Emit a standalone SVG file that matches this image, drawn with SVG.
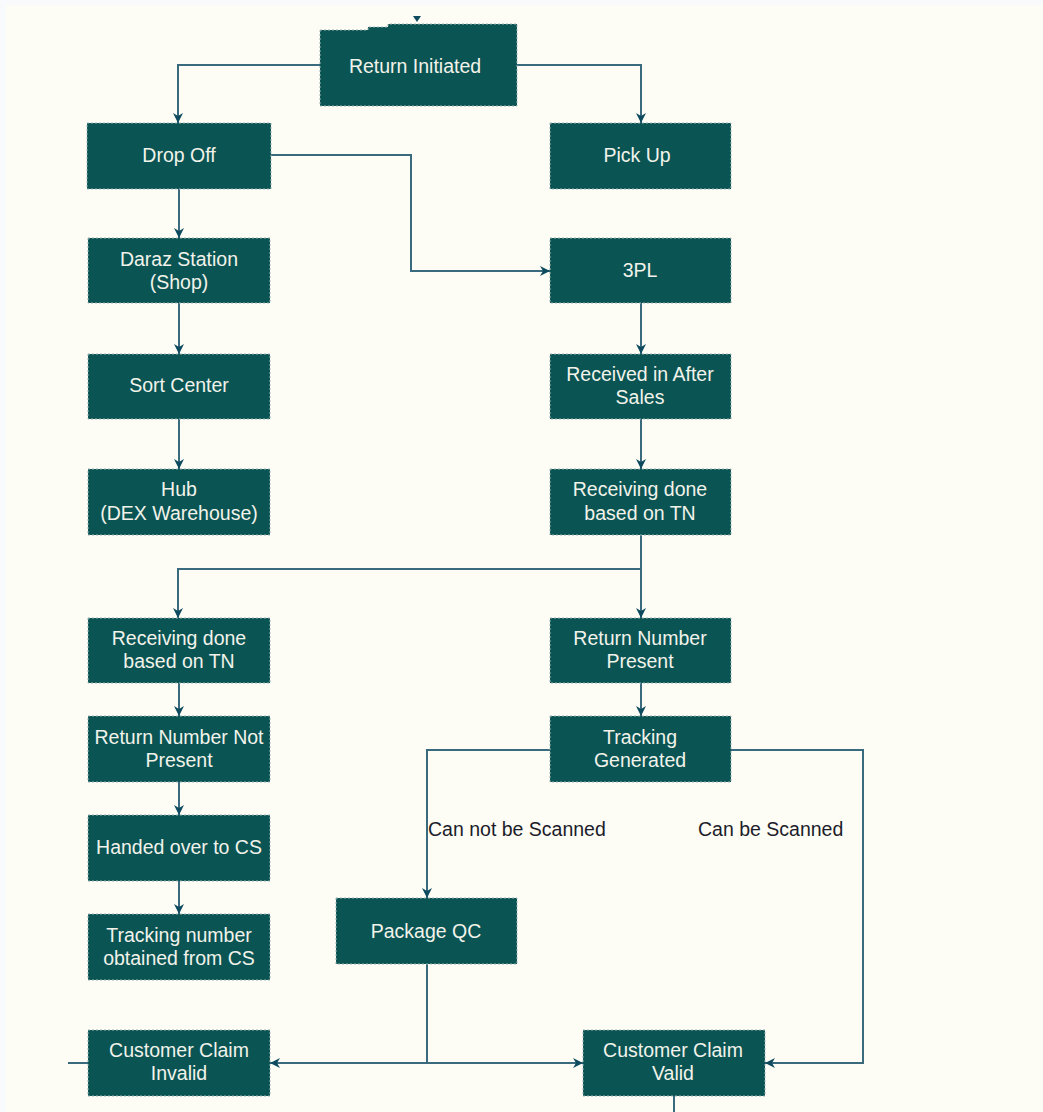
<svg xmlns="http://www.w3.org/2000/svg" width="1043" height="1112" viewBox="0 0 1043 1112">
  <defs>
    <style>
      .node { fill: #0b5454; stroke: #9fb3b3; stroke-width: 1; stroke-dasharray: 2 2; }
      .label { fill: #f1f3ea; font-family: "Liberation Sans", Arial, sans-serif; font-size: 19.5px; text-anchor: middle; dominant-baseline: central; }
      .edge { fill: none; stroke: #3a6a7e; stroke-width: 2; }
      .edge-label { fill: #1c1c2a; font-family: "Liberation Sans", Arial, sans-serif; font-size: 19.5px; dominant-baseline: central; }
    </style>
    <marker id="arrow" viewBox="0 0 10 10" refX="10" refY="5" markerWidth="10" markerHeight="10" markerUnits="userSpaceOnUse" orient="auto">
      <path d="M0,0 L10,5 L0,10 L3,5 Z" fill="#0e4b5e"/>
    </marker>
  </defs>

  <!-- canvas -->
  <rect x="0" y="0" width="1043" height="1112" fill="#f9fafb"/>
  <rect x="6" y="5" width="1037" height="1107" fill="#fdfdf5"/>

  <!-- connectors -->
  <g id="connectors">
    <path class="edge" d="M320,65 H178 V123" marker-end="url(#arrow)"/>
    <path class="edge" d="M517,65 H641 V123" marker-end="url(#arrow)"/>
    <path class="edge" d="M179,189 V238" marker-end="url(#arrow)"/>
    <path class="edge" d="M271,155 H411 V271 H550" marker-end="url(#arrow)"/>
    <path class="edge" d="M179,303 V354" marker-end="url(#arrow)"/>
    <path class="edge" d="M179,419 V469" marker-end="url(#arrow)"/>
    <path class="edge" d="M641,303 V354" marker-end="url(#arrow)"/>
    <path class="edge" d="M641,419 V469" marker-end="url(#arrow)"/>
    <path class="edge" d="M641,535 V618" marker-end="url(#arrow)"/>
    <path class="edge" d="M641,569 H178 V618" marker-end="url(#arrow)"/>
    <path class="edge" d="M179,683 V716" marker-end="url(#arrow)"/>
    <path class="edge" d="M179,782 V815" marker-end="url(#arrow)"/>
    <path class="edge" d="M179,881 V914" marker-end="url(#arrow)"/>
    <path class="edge" d="M641,683 V716" marker-end="url(#arrow)"/>
    <path class="edge" d="M550,750 H427 V898" marker-end="url(#arrow)"/>
    <path class="edge" d="M731,750 H863 V1063 H765" marker-end="url(#arrow)"/>
    <path class="edge" d="M427,964 V1063"/>
    <path class="edge" d="M427,1063 H270" marker-end="url(#arrow)"/>
    <path class="edge" d="M427,1063 H583" marker-end="url(#arrow)"/>
    <path class="edge" d="M68,1063 H88"/>
    <path class="edge" d="M674,1096 V1112"/>
    <path d="M413,16 L421,16 L417,22 Z" fill="#0e4b5e"/>
    <text class="edge-label" x="428" y="829">Can not be Scanned</text>
    <text class="edge-label" x="698" y="829">Can be Scanned</text>
  </g>

  <!-- nodes -->
  <g id="return-initiated">
    <path class="node" d="M320,30 H368 V27 H388 V24 H517 V106 H320 Z"/>
    <text class="label" x="415" y="66">Return Initiated</text>
  </g>
  <g id="drop-off">
    <rect class="node" x="87" y="123" width="184" height="66"/>
    <text class="label" x="179" y="155">Drop Off</text>
  </g>
  <g id="pick-up">
    <rect class="node" x="550" y="123" width="181" height="66"/>
    <text class="label" x="637" y="155">Pick Up</text>
  </g>
  <g id="daraz-station">
    <rect class="node" x="88" y="238" width="182" height="65"/>
    <text class="label" x="179" y="259">Daraz Station</text>
    <text class="label" x="179" y="282">(Shop)</text>
  </g>
  <g id="third-party-logistics">
    <rect class="node" x="550" y="238" width="181" height="65"/>
    <text class="label" x="640" y="270">3PL</text>
  </g>
  <g id="sort-center">
    <rect class="node" x="88" y="354" width="182" height="65"/>
    <text class="label" x="179" y="385">Sort Center</text>
  </g>
  <g id="received-after-sales">
    <rect class="node" x="550" y="354" width="181" height="65"/>
    <text class="label" x="640" y="374">Received in After</text>
    <text class="label" x="640" y="397">Sales</text>
  </g>
  <g id="hub">
    <rect class="node" x="88" y="469" width="182" height="66"/>
    <text class="label" x="179" y="489">Hub</text>
    <text class="label" x="179" y="513">(DEX Warehouse)</text>
  </g>
  <g id="receiving-done-right">
    <rect class="node" x="550" y="469" width="181" height="66"/>
    <text class="label" x="640" y="489">Receiving done</text>
    <text class="label" x="640" y="513">based on TN</text>
  </g>
  <g id="receiving-done-left">
    <rect class="node" x="88" y="618" width="182" height="65"/>
    <text class="label" x="179" y="638">Receiving done</text>
    <text class="label" x="179" y="661">based on TN</text>
  </g>
  <g id="return-number-present">
    <rect class="node" x="550" y="618" width="181" height="65"/>
    <text class="label" x="640" y="638">Return Number</text>
    <text class="label" x="640" y="661">Present</text>
  </g>
  <g id="return-number-not-present">
    <rect class="node" x="88" y="716" width="182" height="66"/>
    <text class="label" x="179" y="737">Return Number Not</text>
    <text class="label" x="179" y="760">Present</text>
  </g>
  <g id="tracking-generated">
    <rect class="node" x="550" y="716" width="181" height="66"/>
    <text class="label" x="640" y="737">Tracking</text>
    <text class="label" x="640" y="760">Generated</text>
  </g>
  <g id="handed-over-cs">
    <rect class="node" x="88" y="815" width="182" height="66"/>
    <text class="label" x="179" y="847">Handed over to CS</text>
  </g>
  <g id="tracking-number-cs">
    <rect class="node" x="88" y="914" width="182" height="66"/>
    <text class="label" x="179" y="935">Tracking number</text>
    <text class="label" x="179" y="958">obtained from CS</text>
  </g>
  <g id="package-qc">
    <rect class="node" x="336" y="898" width="181" height="66"/>
    <text class="label" x="426" y="931">Package QC</text>
  </g>
  <g id="customer-claim-invalid">
    <rect class="node" x="88" y="1030" width="182" height="66"/>
    <text class="label" x="179" y="1050">Customer Claim</text>
    <text class="label" x="179" y="1073">Invalid</text>
  </g>
  <g id="customer-claim-valid">
    <rect class="node" x="583" y="1030" width="182" height="66"/>
    <text class="label" x="673" y="1050">Customer Claim</text>
    <text class="label" x="673" y="1073">Valid</text>
  </g>
</svg>
